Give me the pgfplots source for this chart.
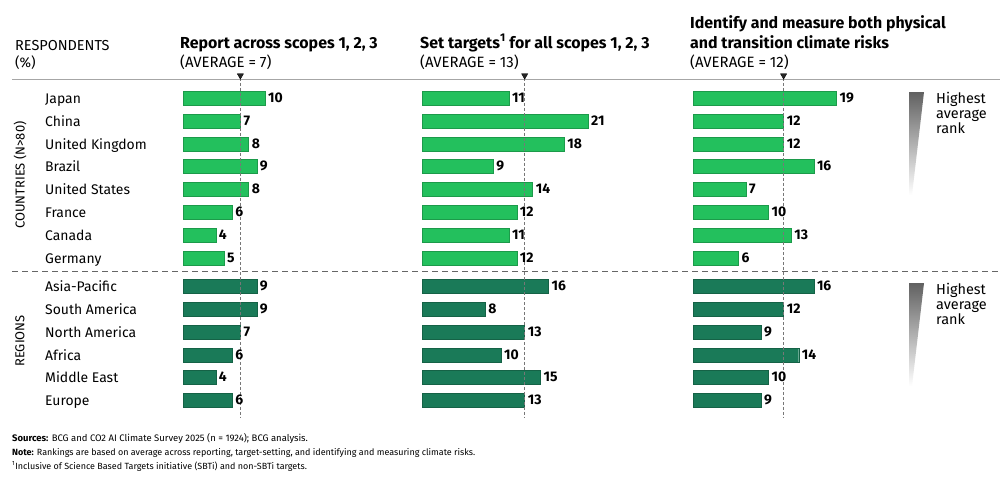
\documentclass[border=0pt]{standalone}
\usepackage{fontspec}
\setmainfont{Fira Sans}
\usepackage{pgfplots}
\pgfplotsset{compat=1.18}

\definecolor{lightg}{HTML}{23C05D}
\definecolor{darkg}{HTML}{1A7A58}
\definecolor{avgline}{HTML}{777777}

% rows are given in pixel units of the picture (y grows downwards)
\pgfplotsset{
  panel/.style={scale only axis, hide axis, clip=false,
    xmin=0, ymin=60, ymax=420, y dir=reverse, height=360bp,
    anchor=north west, bar width=14bp, bar shift=0pt,
    /pgf/number format/assume math mode=true},
  bars/.style={xbar, fill=#1, draw=#1!80!black, line width=0.4pt,
    nodes near coords, point meta=x,
    every node near coord/.style={font=\bfseries\fontsize{14}{14}\selectfont,
      anchor=west, inner xsep=3bp, text=black}},
  avg/.style={densely dashed, avgline, line width=0.6pt},
  tri/.style={only marks, mark=triangle*, mark size=3.6bp,
    mark options={rotate=180, fill=black!85, draw=none}},
}

\begin{document}
\begin{tikzpicture}
\path[use as bounding box, fill=white] (0,0) rectangle (1000bp,-481bp);

% header rule and group separator
\draw[black!35, line width=0.6pt] (12bp,-79bp) -- (1000bp,-79bp);
\draw[black!60, dashed, dash pattern=on 6bp off 4bp, line width=0.6pt] (12bp,-271bp) -- (1000bp,-271bp);

% panel 1: report across scopes
\begin{axis}[panel, at={(183bp,-60bp)}, width=100bp, xmax=12.2]
\addplot[bars=lightg] coordinates {(10,98) (7,121) (8,144) (9,166) (8,189) (6,212) (4,235) (5,258)};
\addplot[bars=darkg] coordinates {(9,286) (9,309) (7,332) (6,355) (4,377) (6,400)};
\addplot[avg] coordinates {(7,78) (7,418)};
\addplot[tri] coordinates {(7,75.5)};
\end{axis}

% panel 2: set targets
\begin{axis}[panel, at={(422bp,-60bp)}, width=200bp, xmax=25.32]
\addplot[bars=lightg] coordinates {(11,98) (21,121) (18,144) (9,166) (14,189) (12,212) (11,235) (12,258)};
\addplot[bars=darkg] coordinates {(16,286) (8,309) (13,332) (10,355) (15,377) (13,400)};
\addplot[avg] coordinates {(13,78) (13,418)};
\addplot[tri] coordinates {(13,75.5)};
\end{axis}

% panel 3: climate risks
\begin{axis}[panel, at={(693bp,-60bp)}, width=200bp, xmax=26.49]
\addplot[bars=lightg] coordinates {(19,98) (12,121) (12,144) (16,166) (7,189) (10,212) (13,235) (6,258)};
\addplot[bars=darkg] coordinates {(16,286) (12,309) (9,332) (14,355) (10,377) (9,400)};
\addplot[avg] coordinates {(12,78) (12,418)};
\addplot[tri] coordinates {(12,75.5)};
\end{axis}

% category names
\foreach \n/\y in {Japan/98, China/121, United Kingdom/144, Brazil/166, United States/189,
  France/212, Canada/235, Germany/258, Asia-Pacific/286, South America/309,
  North America/332, Africa/355, Middle East/377, Europe/400}
  {\node[anchor=base west, inner sep=0pt, font=\fontsize{14}{16}\selectfont] at (45bp,-\y bp-5bp) {\n};}

\node[rotate=90, inner sep=0pt, font=\fontsize{13}{15}\selectfont] at (20bp,-175bp) {COUNTRIES (N>80)};
\node[rotate=90, inner sep=0pt, font=\fontsize{13}{15}\selectfont] at (20bp,-341bp) {REGIONS};

% headers
\node[anchor=base west, inner sep=0pt, font=\fontsize{14.5}{16}\selectfont] at (15bp,-50bp) {RESPONDENTS};
\node[anchor=base west, inner sep=0pt, font=\fontsize{14}{16}\selectfont] at (15bp,-67bp) {(\%)};

\node[anchor=base west, inner sep=0pt, font=\fontsize{16}{18}\selectfont\bfseries] at (180bp,-48bp) {Report across scopes 1, 2, 3};
\node[anchor=base west, inner sep=0pt, font=\fontsize{15}{17}\selectfont] at (180bp,-67bp) {(AVERAGE = 7)};

\node[anchor=base west, inner sep=0pt, font=\fontsize{16}{18}\selectfont\bfseries] at (420bp,-48bp) {Set targets\textsuperscript{1} for all scopes 1, 2, 3};
\node[anchor=base west, inner sep=0pt, font=\fontsize{15}{17}\selectfont] at (420bp,-67bp) {(AVERAGE = 13)};

\node[anchor=base west, inner sep=0pt, font=\fontsize{16}{18}\selectfont\bfseries] at (690bp,-28bp) {Identify and measure both physical};
\node[anchor=base west, inner sep=0pt, font=\fontsize{16}{18}\selectfont\bfseries] at (690bp,-48bp) {and transition climate risks};
\node[anchor=base west, inner sep=0pt, font=\fontsize{15}{17}\selectfont] at (690bp,-67bp) {(AVERAGE = 12)};

% rank wedges
\foreach \t/\b in {92/195, 283/386}{
  \shade[top color=black!62, bottom color=white] (909bp,-\t bp) -- (924bp,-\t bp) -- (912bp,-\b bp) -- (909bp,-\b bp) -- cycle;
  \foreach \l/\d in {Highest/0, average/15, rank/30}
    \node[anchor=base west, inner sep=0pt, font=\fontsize{14.5}{16}\selectfont] at (936bp,-\t bp-\d bp-11bp) {\l};
}

% notes
\node[anchor=base west, inner sep=0pt, font=\fontsize{9.5}{12}\selectfont] at (12bp,-441bp) {\textbf{Sources:} BCG and CO2 AI Climate Survey 2025 (n = 1924); BCG analysis.};
\node[anchor=base west, inner sep=0pt, font=\fontsize{9}{12}\selectfont] at (12bp,-455bp) {\textbf{Note:} Rankings are based on average across reporting, target-setting, and identifying and measuring climate risks.};
\node[anchor=base west, inner sep=0pt, font=\fontsize{9}{12}\selectfont] at (12bp,-469bp) {\textsuperscript{1}Inclusive of Science Based Targets initiative (SBTi) and non-SBTi targets.};
\end{tikzpicture}
\end{document}
